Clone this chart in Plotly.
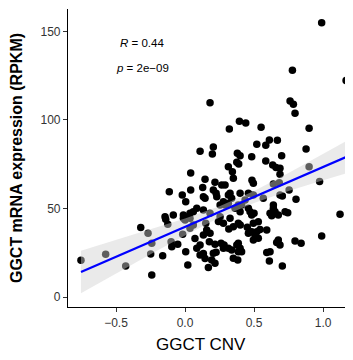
import plotly.graph_objects as go

# GGCT CNV (x) vs GGCT mRNA expression in RPKM (y)
cnv = [0.99, 0.778, 1.167, 0.181, 0.761, 0.785, 0.797, 0.394, 0.44, 0.321,
       0.551, 0.899, 0.109, 0.205, 0.198, 0.52, 0.585, 0.611, 0.669, 0.877,
       0.379, 0.399, 0.483, 0.70, 0.375, 0.389, 0.585, 0.314, 0.343, 0.635,
       0.659, 0.688, 0.899, 0.041, 0.688, 0.145, 0.217, 0.485, 0.495, 0.35,
       0.975, 0.64, 0.683, 0.29, 0.266, 0.128, 0.041, -0.114, -0.02, 0.005,
       0.205, 0.225, 0.145, 0.278, 0.326, 0.338, 0.314, 0.459, 0.435, 0.495,
       0.754, 0.705, 0.804, 0.386, 0.399, 0.459, 0.471, 0.5, 0.483, 0.64,
       0.652, 0.628, 0.676, 0.744, 1.123, -0.085, -0.145, -0.012, 0.036, 0.06,
       0.085, 0.133, 0.181, 0.254, 0.242, 0.278, 0.326, 0.35, 0.386, 0.40,
       0.451, 0.495, 0.531, 0.483, 0.52, 0.507, 0.543, 0.495, 0.531, 0.592,
       0.676, 0.688, 0.664, 0.797, 0.841, 0.99, 0.399, 0.41, 0.592, 0.616,
       0.611, 0.705, 0.382, -0.754, -0.575, -0.43, -0.321, -0.268, -0.241, -0.249,
       -0.241, -0.162, -0.14, -0.125, -0.101, -0.096, -0.053, -0.017, 0.005, 0.02,
       0.109, 0.169, 0.176, 0.15, 0.205, 0.217, 0.217, 0.261, 0.283, 0.317,
       0.338, 0.35, 0.375, 0.386, -0.012, 0.036, 0.06, 0.036, 0.109, 0.133,
       0.145, 0.193, 0.157, 0.181, 0.225, 0.314, 0.386, 0.133, 0.23, 0.314,
       0.254, 0.29, 0.399, 0.362, 0.41, 0.567, 0.64, 0.688, 0.616, 0.725,
       0.0, 0.072, 0.085, 0.133, 0.278, 0.459]
rpkm = [155.0, 128.1, 122.3, 109.8, 110.7, 108.9, 103.8, 99.3, 98.3, 94.9,
        95.9, 95.3, 82.3, 84.7, 80.8, 86.3, 85.7, 88.7, 88.5, 83.6,
        81.2, 79.8, 79.3, 79.8, 76.1, 75.1, 76.8, 73.6, 70.8, 74.6,
        73.1, 72.7, 73.6, 70.1, 69.3, 66.5, 64.8, 66.0, 64.2, 67.1,
        65.3, 63.8, 64.5, 63.3, 63.3, 61.8, 60.5, 59.5, 57.6, 53.8,
        60.5, 58.6, 55.8, 53.8, 58.6, 55.8, 52.9, 58.6, 54.8, 57.6,
        60.5, 57.1, 55.2, 52.0, 48.2, 50.1, 48.2, 47.3, 46.3, 50.1,
        48.2, 45.9, 46.3, 47.6, 46.7, 46.3, 45.4, 46.3, 47.3, 48.2,
        50.1, 49.2, 47.3, 45.4, 42.6, 41.6, 44.5, 39.7, 41.6, 40.7,
        39.4, 41.6, 42.5, 36.9, 36.9, 35.0, 38.2, 32.2, 33.2, 37.9,
        32.2, 29.4, 30.8, 31.6, 30.3, 34.5, 27.5, 25.6, 25.2, 25.6,
        20.3, 17.5, 20.9, 20.7, 24.1, 17.5, 39.2, 36.0, 30.3, 24.3,
        12.4, 23.3, 43.9, 41.1, 31.2, 28.4, 29.8, 35.4, 25.6, 18.1,
        29.4, 16.7, 31.2, 41.6, 24.7, 19.0, 29.8, 30.3, 29.4, 38.4,
        26.6, 21.9, 29.4, 25.6, 44.5, 44.5, 40.7, 38.8, 23.7, 24.6,
        21.8, 20.9, 37.9, 36.0, 25.3, 27.5, 30.3, 56.7, 56.7, 57.6,
        52.0, 52.0, 58.6, 50.1, 52.0, 55.8, 52.0, 57.6, 47.3, 48.2,
        43.5, 33.1, 27.5, 35.0, 27.5, 36.0]

# linear fit and its 95% band
fit_x = [-0.754, -0.5, -0.25, 0.0, 0.25, 0.5, 0.75, 1.0, 1.167]
fit_y = [14.1, 22.7, 31.15, 39.6, 48.05, 56.5, 64.95, 73.4, 79.1]
ci_lo = [2.1, 13.2, 24.1, 34.8, 44.85, 53.15, 59.85, 66.0, 69.8]
ci_hi = [26.1, 32.2, 38.2, 44.4, 51.25, 59.85, 70.05, 80.8, 88.1]

x_ticks = [-0.5, 0.0, 0.5, 1.0]
x_ticktext = ["\u22120.5", "0.0", "0.5", "1.0"]
y_ticks = [0, 50, 100, 150]

fig = go.Figure()
fig.add_trace(go.Scatter(x=cnv, y=rpkm, mode="markers",
                         marker=dict(color="black", size=7.5),
                         cliponaxis=False,
                         hoverinfo="skip", showlegend=False))
fig.add_trace(go.Scatter(x=fit_x + fit_x[::-1], y=ci_hi + ci_lo[::-1],
                         fill="toself", fillcolor="rgba(209,209,209,0.45)",
                         line=dict(width=0), mode="lines",
                         hoverinfo="skip", showlegend=False))
fig.add_trace(go.Scatter(x=fit_x, y=fit_y, mode="lines",
                         line=dict(color="#0000ff", width=2.2),
                         hoverinfo="skip", showlegend=False))

axis_common = dict(showline=True, linecolor="black", linewidth=1.2,
                   ticks="outside", ticklen=4, tickcolor="#333333",
                   showgrid=False, zeroline=False, automargin=False,
                   tickfont=dict(family="Liberation Sans", size=12, color="#333333"))

fig.update_xaxes(range=[-0.848, 1.217], tickvals=x_ticks, ticktext=x_ticktext,
                 **axis_common)
fig.update_yaxes(range=[-5.65, 162.7], tickvals=y_ticks,
                 title=dict(text="<b>GGCT mRNA expression (RPKM)</b>",
                            font=dict(family="Liberation Sans", size=16, color="black"),
                            standoff=18),
                 **axis_common)

fig.add_annotation(text="GGCT CNV", xref="paper", yref="paper",
                   x=0.467, y=-0.1275, xanchor="center", yanchor="middle",
                   showarrow=False,
                   font=dict(family="Liberation Sans", size=17, color="black"))
fig.add_annotation(text="<i>R</i> = 0.44", xref="paper", yref="paper",
                   x=0.26, y=0.886, xanchor="center", yanchor="middle",
                   showarrow=False,
                   font=dict(family="Liberation Sans", size=11.5, color="black"))
fig.add_annotation(text="<i>p</i> = 2e\u221209", xref="paper", yref="paper",
                   x=0.26, y=0.802, xanchor="center", yanchor="middle",
                   showarrow=False,
                   font=dict(family="Liberation Sans", size=11.5, color="black"))

# the page body adds an 8px offset, so the figure is 8px smaller and margins shifted
fig.update_layout(width=345, height=352, margin=dict(l=60, r=0, t=1, b=53),
                  plot_bgcolor="white", paper_bgcolor="white")

fig.write_html("out.html")
